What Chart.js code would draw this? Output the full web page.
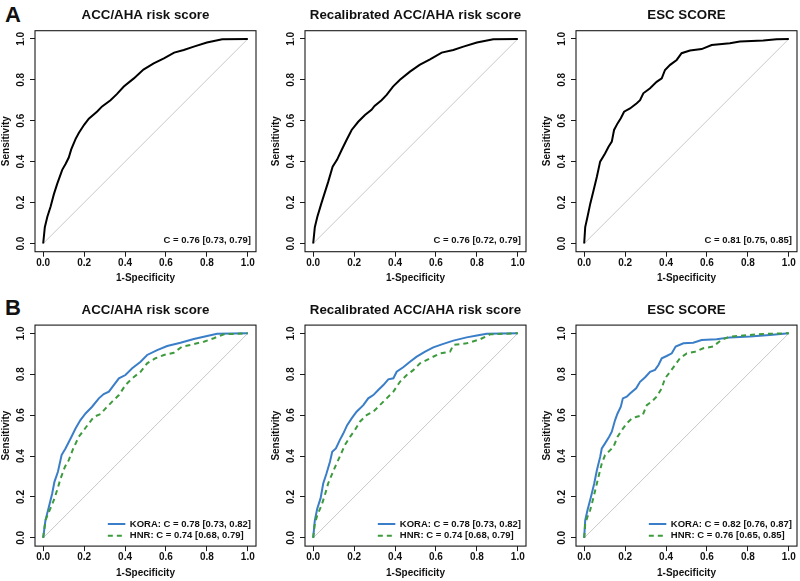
<!DOCTYPE html>
<html><head><meta charset="utf-8">
<script src="https://cdn.jsdelivr.net/npm/chart.js@4.4.1/dist/chart.umd.min.js"></script>
<style>
html,body{margin:0;padding:0;background:#fff;width:800px;height:581px;overflow:hidden;position:relative;}
canvas{position:absolute;}
.lab{position:absolute;font:bold 22px "Liberation Sans",Arial,Helvetica,sans-serif;color:#111;line-height:22px;}
</style></head><body>
<div class="lab" style="left:5px;top:4px">A</div>
<div class="lab" style="left:5px;top:297px">B</div>
<script>
// ---------- data ----------
const tickValues = [0, 0.2, 0.4, 0.6, 0.8, 1.0];
const tickLabels = ['0.0', '0.2', '0.4', '0.6', '0.8', '1.0'];
const diagonal = [0, 1];
const titles = ['ACC/AHA risk score', 'Recalibrated ACC/AHA risk score', 'ESC SCORE'];
const xAxisLabel = '1-Specificity';
const yAxisLabel = 'Sensitivity';

// Row A: overall cohort
const accFpr = [0,0.008,0.02,0.036,0.052,0.068,0.093,0.11,0.125,0.137,0.158,0.174,0.2,0.223,0.264,0.288,0.329,0.36,0.394,0.443,0.49,0.54,0.59,0.64,0.687,0.736,0.80,0.875,1];
const accSens = [0,0.08,0.13,0.18,0.24,0.29,0.36,0.39,0.42,0.46,0.51,0.54,0.58,0.61,0.645,0.67,0.70,0.73,0.767,0.807,0.85,0.88,0.905,0.933,0.946,0.962,0.982,0.998,1];
const recalFpr = [0,0.008,0.02,0.04,0.057,0.073,0.095,0.117,0.139,0.163,0.188,0.22,0.253,0.285,0.30,0.334,0.359,0.39,0.424,0.473,0.52,0.571,0.628,0.685,0.734,0.80,0.88,1];
const recalSens = [0,0.08,0.13,0.196,0.25,0.30,0.375,0.41,0.457,0.506,0.555,0.595,0.628,0.653,0.672,0.70,0.726,0.767,0.80,0.84,0.873,0.90,0.933,0.946,0.962,0.982,0.998,1];
const escFpr = [0,0.005,0.016,0.03,0.046,0.062,0.078,0.102,0.119,0.135,0.146,0.163,0.179,0.195,0.224,0.257,0.273,0.289,0.322,0.354,0.379,0.395,0.42,0.452,0.476,0.517,0.574,0.623,0.712,0.761,0.875,0.94,1];
const escSens = [0,0.08,0.13,0.196,0.26,0.326,0.40,0.44,0.473,0.498,0.555,0.587,0.612,0.644,0.66,0.685,0.70,0.734,0.759,0.79,0.807,0.848,0.873,0.897,0.93,0.943,0.95,0.97,0.979,0.987,0.992,0.998,1];
const cLabelsA = ['C = 0.76 [0.73, 0.79]', 'C = 0.76 [0.72, 0.79]', 'C = 0.81 [0.75, 0.85]'];

// Row B: KORA vs HNR
const accKoraFpr = [0,0.011,0.028,0.044,0.055,0.072,0.09,0.109,0.134,0.158,0.182,0.207,0.239,0.272,0.296,0.321,0.345,0.37,0.402,0.435,0.476,0.508,0.557,0.606,0.671,0.736,0.801,0.85,1];
const accKoraSens = [0,0.086,0.152,0.217,0.274,0.323,0.405,0.437,0.486,0.535,0.576,0.608,0.641,0.682,0.703,0.715,0.747,0.78,0.796,0.829,0.861,0.894,0.918,0.938,0.954,0.972,0.987,0.998,1];
const accHnrFpr = [0,0.011,0.028,0.052,0.068,0.085,0.106,0.125,0.147,0.174,0.199,0.223,0.248,0.28,0.305,0.337,0.37,0.402,0.435,0.476,0.508,0.549,0.59,0.638,0.679,0.72,0.785,0.834,0.883,1];
const accHnrSens = [0,0.086,0.127,0.184,0.233,0.29,0.347,0.38,0.437,0.494,0.527,0.56,0.592,0.605,0.633,0.666,0.698,0.747,0.78,0.812,0.853,0.878,0.894,0.905,0.935,0.943,0.959,0.976,0.995,1];
const recalKoraFpr = [0,0.008,0.02,0.036,0.049,0.065,0.082,0.093,0.111,0.13,0.147,0.166,0.188,0.212,0.245,0.269,0.294,0.318,0.343,0.367,0.392,0.408,0.44,0.473,0.506,0.547,0.587,0.636,0.685,0.75,0.80,0.848,1];
const recalKoraSens = [0,0.086,0.144,0.193,0.266,0.315,0.372,0.421,0.437,0.478,0.51,0.551,0.584,0.617,0.649,0.682,0.698,0.723,0.747,0.775,0.78,0.812,0.834,0.861,0.886,0.91,0.931,0.948,0.964,0.98,0.989,0.998,1];
const recalHnrFpr = [0,0.008,0.02,0.041,0.057,0.073,0.09,0.111,0.13,0.155,0.18,0.204,0.228,0.261,0.294,0.326,0.359,0.392,0.424,0.457,0.489,0.522,0.571,0.62,0.669,0.685,0.75,0.816,0.865,1];
const recalHnrSens = [0,0.07,0.111,0.16,0.209,0.266,0.307,0.356,0.397,0.454,0.494,0.527,0.568,0.60,0.617,0.649,0.682,0.715,0.763,0.796,0.82,0.853,0.878,0.902,0.91,0.943,0.951,0.971,0.995,1];
const escKoraFpr = [0,0.005,0.016,0.033,0.049,0.062,0.078,0.086,0.102,0.122,0.135,0.151,0.163,0.179,0.189,0.208,0.224,0.254,0.273,0.298,0.322,0.346,0.363,0.379,0.403,0.428,0.447,0.485,0.533,0.574,0.647,0.712,0.81,0.907,1];
const escKoraSens = [0,0.086,0.135,0.2,0.266,0.331,0.396,0.437,0.462,0.494,0.519,0.576,0.608,0.641,0.682,0.69,0.706,0.731,0.763,0.785,0.812,0.821,0.845,0.878,0.889,0.902,0.935,0.951,0.954,0.967,0.971,0.98,0.984,0.992,1];
const escHnrFpr = [0,0.005,0.016,0.029,0.042,0.054,0.07,0.086,0.102,0.127,0.143,0.163,0.184,0.208,0.233,0.257,0.286,0.306,0.33,0.354,0.379,0.395,0.42,0.444,0.468,0.501,0.541,0.582,0.63,0.67,0.712,0.777,0.875,1];
const escHnrSens = [0,0.07,0.103,0.135,0.184,0.233,0.299,0.364,0.405,0.429,0.445,0.494,0.527,0.56,0.584,0.592,0.6,0.649,0.666,0.69,0.731,0.78,0.812,0.845,0.878,0.902,0.91,0.927,0.935,0.967,0.984,0.989,0.997,1];
const koraLabels = ['KORA: C = 0.78 [0.73, 0.82]', 'KORA: C = 0.78 [0.73, 0.82]', 'KORA: C = 0.82 [0.76, 0.87]'];
const hnrLabels = ['HNR: C = 0.74 [0.68, 0.79]', 'HNR: C = 0.74 [0.68, 0.79]', 'HNR: C = 0.76 [0.65, 0.85]'];

// ---------- helpers ----------
const FONT = '"Liberation Sans", Arial, Helvetica, sans-serif';
const INK = '#111111';
const BLUE = '#3a7ec8';
const GREEN = '#3d9a3d';
Chart.defaults.font.family = FONT;
Chart.defaults.color = INK;

function pts(xs, ys) {
  if (xs.length !== ys.length) throw new Error('length mismatch ' + xs.length + ' ' + ys.length);
  return xs.map((x, i) => ({x: x, y: ys[i]}));
}

const decor = {
  id: 'decor',
  afterDraw(chart, args, o) {
    const {ctx, chartArea: ca} = chart;
    const ys = chart.scales.y;
    ctx.save();
    // box
    ctx.strokeStyle = '#1a1a1a';
    ctx.lineWidth = 1.1;
    ctx.strokeRect(ca.left, ca.top, ca.right - ca.left, ca.bottom - ca.top);
    // title
    ctx.fillStyle = INK;
    ctx.font = 'bold 13.3px ' + FONT;
    ctx.textAlign = 'center';
    ctx.textBaseline = 'middle';
    ctx.fillText(o.title, (ca.left + ca.right) / 2, o.titleY);
    // rotated y tick labels
    ctx.font = 'bold 10px ' + FONT;
    ys.ticks.forEach((t, i) => {
      const py = ys.getPixelForValue(t.value);
      ctx.save();
      ctx.translate(ca.left - 13.3, py);
      ctx.rotate(-Math.PI / 2);
      ctx.fillText(tickLabels[i], 0, 0);
      ctx.restore();
    });
    // annotation / legend
    ctx.font = 'bold 9.5px ' + FONT;
    if (o.cLabel) {
      ctx.textAlign = 'right';
      ctx.fillText(o.cLabel, ca.right - 5, ca.bottom - 11.7);
    }
    if (o.legend) {
      const w = Math.max(...o.legend.map(l => ctx.measureText(l.text).width));
      const tx = ca.right - 5 - w;
      o.legend.forEach((l, i) => {
        const ly = ca.bottom - 22.1 + i * 11.7;
        ctx.textAlign = 'left';
        ctx.fillStyle = INK;
        ctx.fillText(l.text, tx, ly);
        ctx.beginPath();
        ctx.strokeStyle = l.color;
        ctx.lineWidth = 2;
        ctx.setLineDash(l.dash || []);
        ctx.moveTo(tx - 22, ly);
        ctx.lineTo(tx - 4.5, ly);
        ctx.stroke();
        ctx.setLineDash([]);
      });
    }
    ctx.restore();
  }
};

const boxLefts = [34.5, 305.2, 575.8];

function makePanel(row, col, curves, extra) {
  const cv = document.createElement('canvas');
  const H = row === 0 ? 290 : 296;
  cv.width = 291; cv.height = H;
  cv.style.left = (boxLefts[col] - 35) + 'px';
  cv.style.top = (row === 0 ? 0 : 290) + 'px';
  cv.style.width = '291px'; cv.style.height = H + 'px';
  document.body.appendChild(cv);
  const padTop = row === 0 ? 30.7 : 35.1;
  const padBottom = row === 0 ? 1.7 : 2.3;
  const xHeight = row === 0 ? 36.6 : 37.6;
  const titleY = row === 0 ? 15 : 20;
  const datasets = [{
    data: pts(diagonal, diagonal), borderColor: '#c8c8c8', borderWidth: 1, showLine: true, pointRadius: 0, order: 5
  }].concat(curves.map((c, i) => ({
    data: pts(c.x, c.y), borderColor: c.color, borderWidth: 2, borderDash: c.dash || [],
    showLine: true, pointRadius: 0, tension: 0, order: 2 - i
  })));
  const axisFont = {family: FONT, size: 10, weight: 'bold'};
  new Chart(cv, {
    type: 'scatter',
    data: {datasets},
    plugins: [decor],
    options: {
      responsive: false, animation: false, devicePixelRatio: 1,
      layout: {padding: {left: 0, right: 35, top: padTop, bottom: padBottom}},
      plugins: {
        legend: {display: false}, tooltip: {enabled: false}, title: {display: false},
        decor: Object.assign({title: titles[col], titleY}, extra)
      },
      scales: {
        x: {
          type: 'linear', min: -0.04, max: 1.04,
          afterBuildTicks: s => { s.ticks = tickValues.map(v => ({value: v})); },
          afterFit: s => { s.height = xHeight; },
          grid: {display: true, drawOnChartArea: false, drawTicks: true, tickLength: 5, color: '#1a1a1a', lineWidth: 1},
          border: {display: false},
          ticks: {font: axisFont, color: INK, padding: 0.5, maxRotation: 0, minRotation: 0, autoSkip: false,
                  callback: (v, i) => tickLabels[i]},
          title: {display: true, text: xAxisLabel, font: axisFont, color: INK, padding: {top: 0, bottom: 4}}
        },
        y: {
          type: 'linear', min: -0.04, max: 1.04,
          afterBuildTicks: s => { s.ticks = tickValues.map(v => ({value: v})); },
          afterFit: s => { s.width = 35; },
          grid: {display: true, drawOnChartArea: false, drawTicks: true, tickLength: 5, color: '#1a1a1a', lineWidth: 1},
          border: {display: false},
          ticks: {display: false},
          title: {display: true, text: yAxisLabel, font: axisFont, color: INK, padding: {top: 0.5, bottom: 0}}
        }
      }
    }
  });
}

// Row A
makePanel(0, 0, [{x: accFpr, y: accSens, color: '#000'}], {cLabel: cLabelsA[0]});
makePanel(0, 1, [{x: recalFpr, y: recalSens, color: '#000'}], {cLabel: cLabelsA[1]});
makePanel(0, 2, [{x: escFpr, y: escSens, color: '#000'}], {cLabel: cLabelsA[2]});
// Row B
const bSets = [
  [accKoraFpr, accKoraSens, accHnrFpr, accHnrSens],
  [recalKoraFpr, recalKoraSens, recalHnrFpr, recalHnrSens],
  [escKoraFpr, escKoraSens, escHnrFpr, escHnrSens]
];
bSets.forEach((s, col) => {
  makePanel(1, col, [
    {x: s[0], y: s[1], color: BLUE},
    {x: s[2], y: s[3], color: GREEN, dash: [5, 4]}
  ], {legend: [
    {text: koraLabels[col], color: BLUE},
    {text: hnrLabels[col], color: GREEN, dash: [5, 4]}
  ]});
});
</script>
</body></html>
